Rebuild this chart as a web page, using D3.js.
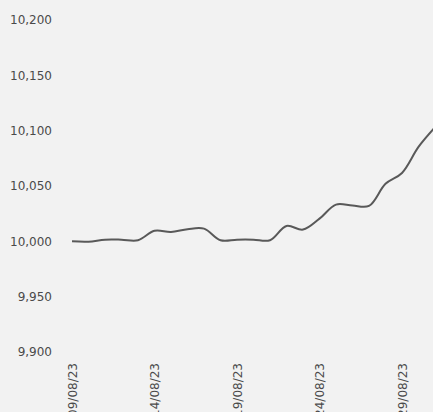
<!DOCTYPE html>
<html>
<head>
<meta charset="utf-8">
<script src="https://cdn.jsdelivr.net/npm/d3@7"></script>
<style>
  html, body { margin: 0; padding: 0; background: #f2f2f2; overflow: hidden; }
  svg { display: block; }
  .tick text { font-family: "DejaVu Sans", sans-serif; font-size: 12px; fill: #4a4a4a; }
</style>
</head>
<body>
<svg id="chart" width="433" height="412"></svg>
<script>
// daily values, 09/08/23 .. 31/08/23
let dates = ["2023-08-09","2023-08-10","2023-08-11","2023-08-12","2023-08-13","2023-08-14","2023-08-15",
    "2023-08-16","2023-08-17","2023-08-18","2023-08-19","2023-08-20","2023-08-21","2023-08-22",
    "2023-08-23","2023-08-24","2023-08-25","2023-08-26","2023-08-27","2023-08-28","2023-08-29",
    "2023-08-30","2023-08-31"]
let values = [10000, 9999.7, 10001.5, 10001.5, 10001, 10009.5, 10008.5,
    10011, 10011.5, 10001, 10001.5, 10001.5, 10001, 10013.9,
    10010.6, 10020.5, 10033.2, 10032.3, 10032, 10052, 10061.8,
    10085.3, 10103]
let yTicks = [9900, 9950, 10000, 10050, 10100, 10150, 10200]
let xTicks = ["2023-08-09","2023-08-14","2023-08-19","2023-08-24","2023-08-29"]

let parse = d3.timeParse("%Y-%m-%d")
let data = dates.map((d, i) => ({ date: parse(d), value: values[i] }))

let svg = d3.select("#chart")

let x = d3.scaleTime()
    .domain([parse(dates[0]), parse(dates[dates.length - 1])])
    .range([72, 435])
let y = d3.scaleLinear()
    .domain([9900, 10200])
    .range([352, 20])

// y axis, labels only
let yAxis = svg.append("g")
    .attr("transform", "translate(52,0)")
    .call(d3.axisLeft(y).tickValues(yTicks).tickSize(0).tickPadding(0)
        .tickFormat(d3.format(",")))
yAxis.select(".domain").remove()

// x axis, rotated labels (cut off at the bottom like the original)
let xAxis = svg.append("g")
    .attr("transform", "translate(0,352)")
    .call(d3.axisBottom(x).tickValues(xTicks.map(parse)).tickSize(0)
        .tickFormat(d3.timeFormat("%d/%m/%y")))
xAxis.select(".domain").remove()
xAxis.selectAll("text")
    .attr("transform", "rotate(-90)")
    .attr("text-anchor", "end")
    .attr("x", -11)
    .attr("y", 0)
    .attr("dy", "0.35em")

let line = d3.line()
    .x(d => x(d.date))
    .y(d => y(d.value))
    .curve(d3.curveCatmullRom.alpha(0.5))

svg.append("path")
    .datum(data)
    .attr("fill", "none")
    .attr("stroke", "#595959")
    .attr("stroke-width", 2)
    .attr("d", line)
</script>
</body>
</html>
